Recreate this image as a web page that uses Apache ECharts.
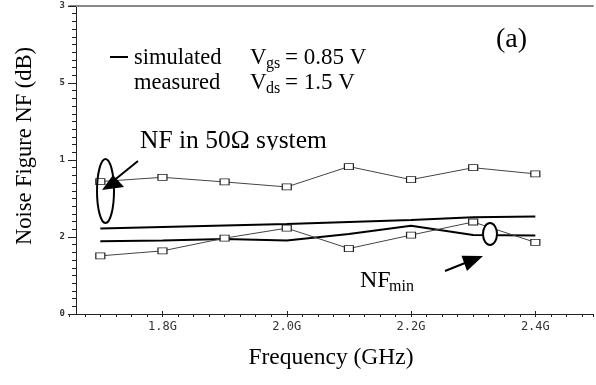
<!DOCTYPE html>
<html><head><meta charset="utf-8">
<script src="https://cdn.jsdelivr.net/npm/echarts@6/dist/echarts.min.js"></script>
<style>html,body{margin:0;padding:0;background:#fff}#c{width:596px;height:385px}</style>
</head><body><div id="c"></div>
<script>
const freq = [1.7, 1.8, 1.9, 2.0, 2.1, 2.2, 2.3, 2.4];
const nf50Meas = [3.44, 3.55, 3.43, 3.30, 3.83, 3.49, 3.80, 3.64];
const nfMinMeas = [1.51, 1.64, 1.97, 2.23, 1.70, 2.05, 2.39, 1.86];
const nf50Sim = [2.22, 2.26, 2.30, 2.34, 2.39, 2.44, 2.51, 2.53];
const nfMinSim = [1.89, 1.91, 1.95, 1.91, 2.08, 2.29, 2.05, 2.04];
const xTickValues = [1.8, 2.0, 2.2, 2.4];
const xTickLabels = ['1.8G', '2.0G', '2.2G', '2.4G'];
const yTickValues = [0, 2, 4, 6, 8];
const yTickLabels = ['0', '2', '1', '5', '3'];

const pairs = a => freq.map((f, i) => [f, a[i]]);
const serif = '"Liberation Serif", "Times New Roman", serif';
const chart = echarts.init(document.getElementById('c'), null, {renderer: 'canvas'});
const XMIN = 1.65, XMAX = 2.4928;
const measStyle = {
  type: 'line', symbol: 'rect', symbolSize: [9, 6], showSymbol: true,
  lineStyle: {color: '#444', width: 1},
  itemStyle: {color: '#fff', borderColor: '#222', borderWidth: 1}, z: 3
};
const simStyle = {type: 'line', symbol: 'none', lineStyle: {color: '#000', width: 2}, z: 2};

function txt(x, y, text, size, extra) {
  const o = {type: 'text', x: x, y: y, z: 10,
    style: {text: text, font: size + 'px ' + serif, fill: '#000', align: 'left', verticalAlign: 'middle'}};
  if (extra) { if (extra.style) Object.assign(o.style, extra.style); if (extra.rotation) o.rotation = extra.rotation; }
  return o;
}
const yLabelFmt = v => { const i = yTickValues.indexOf(v); return i >= 0 ? yTickLabels[i] : ''; };

chart.setOption({
  animation: false,
  grid: [
    {left: 69.25, right: 0, top: 6, bottom: 71},
    {left: 76, right: 0, top: 6, bottom: 71}
  ],
  xAxis: [
    {type: 'value', gridIndex: 0, min: XMIN, max: XMAX, interval: 0.025,
     axisLine: {show: true, onZero: false, lineStyle: {color: '#222', width: 1}},
     axisTick: {show: true, length: 3, lineStyle: {color: '#222'}},
     axisLabel: {show: true, interval: 0, margin: 7, color: '#333', fontSize: 12,
       fontFamily: '"DejaVu Sans Mono", monospace',
       formatter: v => { const i = xTickValues.findIndex(t => Math.abs(t - v) < 1e-6); return i >= 0 ? xTickLabels[i] : ''; }},
     splitLine: {show: false}},
    {type: 'value', gridIndex: 0, min: XMIN, max: XMAX, position: 'bottom',
     axisLine: {show: false, onZero: false},
     axisTick: {show: true, inside: true, length: 3, customValues: xTickValues, lineStyle: {color: '#222'}},
     axisLabel: {show: false}, splitLine: {show: false}},
    {type: 'value', gridIndex: 0, min: XMIN, max: XMAX, position: 'top',
     axisLine: {show: true, onZero: false, lineStyle: {color: '#888', width: 2}},
     axisTick: {show: false}, axisLabel: {show: false}, splitLine: {show: false}},
    {type: 'value', gridIndex: 1, min: 0, max: 1, show: false}
  ],
  yAxis: [
    {type: 'value', gridIndex: 0, min: 0, max: 8, interval: 2, show: false},
    {type: 'value', gridIndex: 1, min: 0, max: 8, interval: 2, position: 'left',
     axisLine: {show: true, onZero: false, lineStyle: {color: '#222', width: 1}},
     axisTick: {show: true, inside: false, length: 8, lineStyle: {color: '#222', width: 1}},
     minorTick: {show: true, splitNumber: 10, length: 4, lineStyle: {color: '#222', width: 1}},
     axisLabel: {show: true, margin: 11, color: '#333', fontSize: 9, fontWeight: 'bold',
       fontFamily: '"DejaVu Sans Mono", monospace', formatter: yLabelFmt},
     splitLine: {show: false}}
  ],
  series: [
    Object.assign({name: 'NF 50 sim', xAxisIndex: 0, yAxisIndex: 0, data: pairs(nf50Sim)}, simStyle),
    Object.assign({name: 'NFmin sim', xAxisIndex: 0, yAxisIndex: 0, data: pairs(nfMinSim)}, simStyle),
    Object.assign({name: 'NF 50 meas', xAxisIndex: 0, yAxisIndex: 0, data: pairs(nf50Meas)}, measStyle),
    Object.assign({name: 'NFmin meas', xAxisIndex: 0, yAxisIndex: 0, data: pairs(nfMinMeas)}, measStyle)
  ],
  graphic: [
    txt(25, 146, 'Noise Figure NF (dB)', 22.5, {rotation: Math.PI / 2, style: {align: 'center'}}),
    txt(331, 358, 'Frequency (GHz)', 23.5, {style: {align: 'center'}}),
    txt(496, 40, '(a)', 28),
    {type: 'line', z: 10, shape: {x1: 110, y1: 57, x2: 128, y2: 57}, style: {stroke: '#000', lineWidth: 2}},
    txt(134, 58, 'simulated', 22.5),
    txt(134, 83, 'measured', 22.5),
    txt(250, 58, 'V', 23), txt(266, 64, 'gs', 16), txt(285, 58, '= 0.85 V', 23),
    txt(250, 83, 'V', 23), txt(266, 89, 'ds', 16), txt(285, 83, '= 1.5 V', 23),
    txt(140, 141, 'NF in 50\u03A9 system', 25.5),
    {type: 'rect', z: 11, shape: {x: 136, y: 150, width: 205, height: 10}, style: {fill: '#fff'}},
    {type: 'ellipse', z: 12, shape: {cx: 105.5, cy: 191, rx: 8.5, ry: 32}, style: {fill: 'none', stroke: '#000', lineWidth: 2}},
    {type: 'line', z: 12, shape: {x1: 138, y1: 161, x2: 112, y2: 182}, style: {stroke: '#000', lineWidth: 2}},
    {type: 'polygon', z: 12, shape: {points: [[102, 190], [113, 175], [124, 187]]}, style: {fill: '#000'}},
    {type: 'ellipse', z: 12, shape: {cx: 490, cy: 234, rx: 7, ry: 11}, style: {fill: '#fff', stroke: '#000', lineWidth: 2}},
    {type: 'line', z: 12, shape: {x1: 445, y1: 271, x2: 470, y2: 261}, style: {stroke: '#000', lineWidth: 2}},
    {type: 'polygon', z: 12, shape: {points: [[483, 256], [467, 271], [461.5, 255.7]]}, style: {fill: '#000'}},
    txt(360, 281, 'NF', 24), txt(389, 287, 'min', 16)
  ]
});
</script></body></html>
